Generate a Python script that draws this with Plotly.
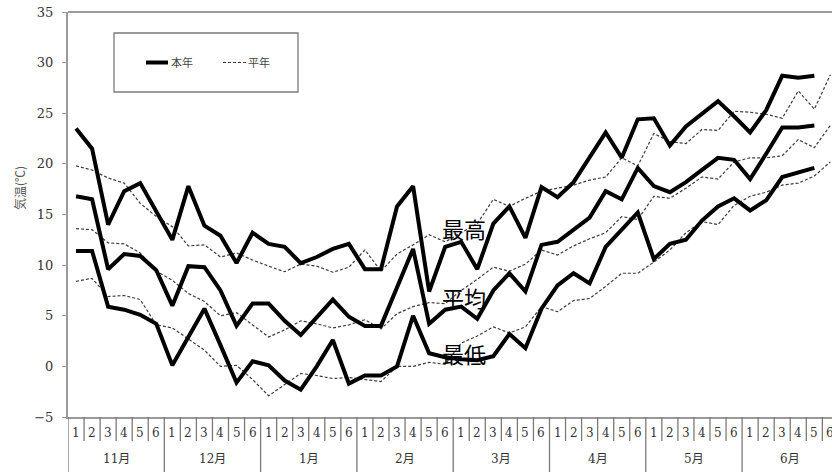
import plotly.graph_objects as go

months = ["11月", "12月", "1月", "2月", "3月", "4月", "5月", "6月"]
pentads = ["1", "2", "3", "4", "5", "6"]

max_this = [23.5, 21.5, 14.0, 17.3, 18.1, 15.3, 12.5, 17.8, 13.9, 12.9, 10.2, 13.2,
            12.1, 11.8, 10.2, 10.8, 11.6, 12.1, 9.6, 9.6, 15.8, 17.8, 7.4, 11.8,
            12.3, 9.6, 14.1, 15.8, 12.7, 17.7, 16.7, 18.2, 20.6, 23.1, 20.6, 24.4,
            24.5, 21.8, 23.7, 25.0, 26.2, 24.7, 23.1, 25.3, 28.7, 28.5, 28.7]
max_norm = [19.8, 19.4, 18.6, 18.1, 16.1, 14.8, 13.8, 11.9, 12.0, 10.8, 11.2, 10.5,
            9.9, 9.35, 10.1, 9.9, 9.3, 9.8, 11.5, 9.4, 11.1, 12.0, 13.0, 12.3,
            13.2, 14.1, 16.5, 15.8, 16.6, 17.3, 17.6, 17.9, 18.4, 18.7, 20.6, 19.8,
            23.0, 22.2, 22.0, 23.4, 23.3, 25.2, 25.1, 24.9, 24.5, 27.2, 25.4, 28.8]
mean_this = [16.8, 16.5, 9.6, 11.1, 10.9, 9.5, 6.0, 9.9, 9.8, 7.5, 4.0, 6.2,
             6.2, 4.5, 3.1, 4.9, 6.6, 4.9, 4.0, 4.0, 7.9, 11.6, 4.2, 5.6,
             5.9, 4.7, 7.5, 9.2, 7.4, 12.0, 12.3, 13.5, 14.7, 17.3, 16.5, 19.6,
             17.8, 17.2, 18.2, 19.4, 20.6, 20.4, 18.5, 21.0, 23.6, 23.6, 23.8]
mean_norm = [13.6, 13.5, 12.2, 12.1, 11.2, 9.4, 8.5, 7.2, 6.4, 5.0, 5.3, 4.1,
             2.9, 3.6, 4.5, 4.2, 3.8, 4.1, 4.6, 3.7, 5.2, 5.9, 6.3, 6.2,
             7.5, 8.6, 9.8, 9.4, 10.1, 11.5, 11.0, 11.9, 12.6, 13.2, 14.8, 14.5,
             16.8, 16.6, 17.6, 18.7, 18.5, 20.2, 20.6, 20.6, 20.8, 22.4, 21.6, 23.8]
min_this = [11.4, 11.4, 5.9, 5.6, 5.1, 4.2, 0.1, 3.0, 5.7, 2.1, -1.6, 0.5,
            0.1, -1.4, -2.3, 0.0, 2.6, -1.7, -0.9, -0.9, 0.0, 5.0, 1.3, 0.9,
            0.7, 0.6, 1.0, 3.2, 1.8, 5.7, 8.0, 9.2, 8.2, 11.8, 13.5, 15.2,
            10.6, 12.1, 12.5, 14.4, 15.8, 16.6, 15.4, 16.4, 18.7, 19.2, 19.6]
min_norm = [8.4, 8.7, 6.9, 7.0, 6.6, 4.1, 3.8, 2.7, 1.6, 0.0, 0.1, -1.3,
            -2.9, -1.8, -0.7, -0.9, -1.2, -1.1, -1.3, -1.5, 0.0, 0.0, 0.4, 0.2,
            2.3, 3.0, 3.9, 3.3, 3.9, 5.9, 5.4, 6.5, 6.7, 7.9, 9.2, 9.2,
            10.3, 11.5, 13.2, 14.3, 14.0, 15.9, 16.8, 17.2, 17.9, 18.1, 18.8, 20.2]
series_labels = ["最高", "平均", "最低"]
series_label_y = [13.7, 6.85, 1.3]
legend_names = ["本年", "平年"]
y_ticks = [-5, 0, 5, 10, 15, 20, 25, 30, 35]

W, H = 832, 472
ML, MT, MB = 68, 12, 55
PW, PH = W - ML, H - MT - MB
CELL = 16.05


def px_x(p):
    return (p - ML) / PW


def px_y(p):
    return (H - MB - p) / PH


fig = go.Figure()
norm_style = dict(color="#3c3c3c", width=1.2, dash="3px,2px")
this_style = dict(color="#000000", width=4)
for ys in (max_norm, mean_norm, min_norm):
    fig.add_trace(go.Scatter(x=list(range(len(ys))), y=ys, mode="lines",
                             line=norm_style, showlegend=False, hoverinfo="skip"))
for ys in (max_this, mean_this, min_this):
    fig.add_trace(go.Scatter(x=list(range(len(ys))), y=ys, mode="lines",
                             line=this_style, showlegend=False, hoverinfo="skip"))

shapes = []
ann = []
axis_gray = "#9a9a9a"
sep_gray = "#7a7a7a"
n_cells = len(months) * len(pentads)
for k in range(n_cells + 1):
    is_month = (k % len(pentads) == 0)
    shapes.append(dict(type="line", xref="x", yref="paper",
                       x0=k - 0.5, x1=k - 0.5, y0=0,
                       y1=px_y(472) if is_month else px_y(441),
                       line=dict(color=sep_gray, width=1.3)))
for k in range(n_cells):
    ann.append(dict(x=k, y=px_y(433), xref="x", yref="paper",
                    text=pentads[k % len(pentads)], showarrow=False,
                    font=dict(family="DejaVu Serif, Noto Sans CJK JP", size=12, color="#333"),
                    xanchor="center", yanchor="middle"))
for m, name in enumerate(months):
    ann.append(dict(x=m * len(pentads) + 2.5, y=px_y(459), xref="x", yref="paper",
                    text=name, showarrow=False,
                    font=dict(family="DejaVu Serif, Noto Sans CJK JP", size=12, color="#333"),
                    xanchor="center", yanchor="middle"))

# top border
shapes.append(dict(type="line", xref="paper", yref="paper", x0=0, x1=1, y0=1, y1=1,
                   line=dict(color=axis_gray, width=2)))

# legend box
shapes.append(dict(type="rect", xref="paper", yref="paper",
                   x0=px_x(114), x1=px_x(298), y0=px_y(92), y1=px_y(33),
                   line=dict(color="#7a7a7a", width=1.3), fillcolor="white"))
shapes.append(dict(type="line", xref="paper", yref="paper",
                   x0=px_x(146), x1=px_x(168), y0=px_y(62.5), y1=px_y(62.5),
                   line=dict(color="#000", width=4)))
shapes.append(dict(type="line", xref="paper", yref="paper",
                   x0=px_x(223), x1=px_x(246), y0=px_y(62.5), y1=px_y(62.5),
                   line=norm_style))
for lx, name in zip((169, 246), legend_names):
    ann.append(dict(x=px_x(lx), y=px_y(62.5), xref="paper", yref="paper", text=name,
                    showarrow=False, xanchor="left", yanchor="middle",
                    font=dict(family="Noto Sans CJK JP", size=11, color="#444")))

# series labels
for lab, yv in zip(series_labels, series_label_y):
    ann.append(dict(x=24.2, y=yv, xref="x", yref="y", text=lab, showarrow=False,
                    xanchor="center", yanchor="middle",
                    font=dict(family="Noto Sans CJK JP", size=22, color="#000")))

# y title
ann.append(dict(x=px_x(19), y=px_y(188), xref="paper", yref="paper", text="気温(℃)",
                showarrow=False, textangle=-90, xanchor="center", yanchor="middle",
                font=dict(family="Noto Sans CJK JP", size=12, color="#555")))

x_max = -0.5 + PW / CELL
fig.update_layout(
    width=W, height=H, margin=dict(l=ML, r=0, t=MT, b=MB, pad=0),
    paper_bgcolor="white", plot_bgcolor="white",
    xaxis=dict(range=[-0.5, x_max], showgrid=False, zeroline=False,
               showline=True, linecolor=axis_gray, linewidth=2,
               showticklabels=False, ticks=""),
    yaxis=dict(range=[-5, 35], tickvals=y_ticks, showgrid=False, zeroline=False,
               showline=True, linecolor=axis_gray, linewidth=2,
               ticks="outside", ticklen=4, tickcolor=axis_gray, tickwidth=1,
               ticklabelstandoff=6,
               tickfont=dict(family="DejaVu Serif", size=13, color="#333")),
    shapes=shapes, annotations=ann, showlegend=False,
)
fig.write_html("out.html")
